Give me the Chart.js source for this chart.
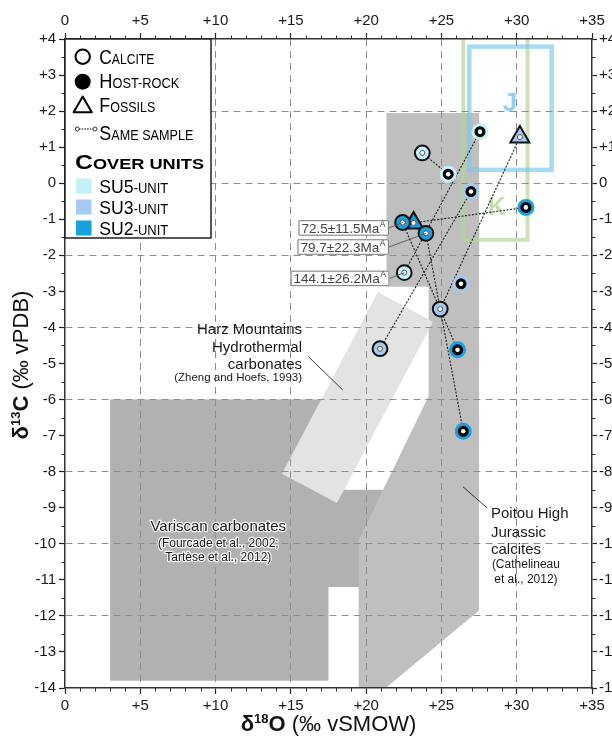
<!DOCTYPE html>
<html><head><meta charset="utf-8">
<script src="https://cdn.jsdelivr.net/npm/chart.js@4/dist/chart.umd.min.js"></script>
<style>html,body{margin:0;padding:0;background:#fff;}#wrap{width:612px;height:736px;}</style>
</head><body><div id="wrap"><canvas id="c" width="612" height="736"></canvas></div>
<script>
// ---------- data ----------
const xTickValues = [0, 5, 10, 15, 20, 25, 30, 35];
const yTickValues = [4, 3, 2, 1, 0, -1, -2, -3, -4, -5, -6, -7, -8, -9, -10, -11, -12, -13, -14];

const calciteD18O = [23.73, 22.53, 22.42, 23.97, 24.92, 20.92];
const calciteD13C = [0.84, -2.48, -1.09, -1.39, -3.49, -4.59];
const calciteUnit = ['SU5', 'SU5', 'SU2', 'SU2', 'SU3', 'SU3'];

const hostD18O = [27.56, 25.45, 26.96, 30.61, 26.30, 26.07, 26.45];
const hostD13C = [1.43, 0.25, -0.23, -0.67, -2.79, -4.62, -6.88];
const hostUnit = ['SU5', 'SU5', 'SU3', 'SU2', 'SU3', 'SU2', 'SU2'];

const fossilD18O = [30.21, 23.15];
const fossilD13C = [1.28, -1.10];
const fossilUnit = ['SU3', 'SU2'];

// same-sample links: [kind, index, kind, index]
const samePairs = [['C',0,'H',1],['C',1,'H',0],['C',5,'H',2],['F',0,'C',4],['H',3,'F',1],['C',2,'H',5],['C',3,'H',6]];

const ageLabels = ['72.5±11.5Ma', '79.7±22.3Ma', '144.1±26.2Ma'];
const ageTarget = [['C',2], ['C',3], ['C',1]];

const variscanX = [3, 3, 18.3, 18.3, 21.5, 21.5, 17.5, 17.5];
const variscanY = [-13.8, -6, -6, -8.5, -8.5, -11.2, -11.2, -13.8];
const poitouX = [21.35, 27.5, 27.5, 21.3, 19.5, 19.5, 24.15, 24.15, 21.35];
const poitouY = [1.95, 1.95, -11.85, -14, -14, -9.9, -5.9, -2.87, -2.87];
const harzX = [20.78, 24.44, 18.06, 14.41];
const harzY = [-3.02, -3.85, -8.87, -8.06];
const jBoxX = [26.85, 32.32];
const jBoxY = [3.79, 0.37];
const kBoxX = [26.45, 30.72];
const kBoxY = [4.3, -1.57];

const unitNames = ['SU5-unit', 'SU3-unit', 'SU2-unit'];
const unitColor = {SU5: '#c6f0f8', SU3: '#a5c9f0', SU2: '#18a1dc'};

// ---------- helpers ----------
const FAM = '"Liberation Sans", Arial, sans-serif';
const NARROW = '"Liberation Sans Narrow", "Liberation Sans", Arial, sans-serif';
const fmt = v => v > 0 ? '+' + v : String(v);
const pt = (k, i) => k === 'C' ? {x: calciteD18O[i], y: calciteD13C[i]}
                  : k === 'H' ? {x: hostD18O[i], y: hostD13C[i]}
                  : {x: fossilD18O[i], y: fossilD13C[i]};

function poly(ctx, xs, ys, X, Y, color) {
  ctx.beginPath();
  X.forEach((x, i) => { const a = xs.getPixelForValue(x), b = ys.getPixelForValue(Y[i]); i ? ctx.lineTo(a, b) : ctx.moveTo(a, b); });
  ctx.closePath(); ctx.fillStyle = color; ctx.fill();
}
function smallCaps(ctx, text, x, y, big, small, weight, family, targetW) {
  const segs = [];
  for (const ch of text) {
    const sm = (ch !== ch.toUpperCase()) || ch === '-' || ch === ' ';
    const t = ch.toUpperCase();
    if (segs.length && segs[segs.length - 1].sm === sm) segs[segs.length - 1].t += t; else segs.push({t, sm});
  }
  let total = 0;
  segs.forEach(s => { ctx.font = `${weight} ${s.sm ? small : big}px ${family}`; s.w = ctx.measureText(s.t).width; total += s.w; });
  const k = targetW ? targetW / total : 1;
  ctx.save(); ctx.translate(x, y); ctx.scale(k, 1); let cx = 0;
  ctx.textAlign = 'left'; ctx.textBaseline = 'alphabetic';
  segs.forEach(s => { ctx.font = `${weight} ${s.sm ? small : big}px ${family}`; ctx.fillText(s.t, cx, 0); cx += s.w; });
  ctx.restore();
}
function rich(ctx, parts, x, y) {
  let total = 0;
  parts.forEach(p => { ctx.font = p.f; p.w = ctx.measureText(p.t).width; total += p.w; });
  let cx = x - total / 2; ctx.textAlign = 'left'; ctx.textBaseline = 'alphabetic';
  parts.forEach(p => { ctx.font = p.f; ctx.fillText(p.t, cx, y + (p.dy || 0)); cx += p.w; });
}
function line(ctx, x1, y1, x2, y2) { ctx.beginPath(); ctx.moveTo(x1, y1); ctx.lineTo(x2, y2); ctx.stroke(); }

// ---------- plugins ----------
const backdrop = {
  id: 'backdrop',
  beforeDraw(chart) {
    const {ctx, chartArea: a} = chart; const xs = chart.scales.x, ys = chart.scales.y;
    const X = v => xs.getPixelForValue(v), Y = v => ys.getPixelForValue(v);
    ctx.save();
    ctx.fillStyle = '#fff'; ctx.fillRect(0, 0, chart.width, chart.height);
    ctx.beginPath(); ctx.rect(a.left, a.top, a.right - a.left, a.bottom - a.top); ctx.clip();
    poly(ctx, xs, ys, variscanX, variscanY, '#b1b1b1');
    poly(ctx, xs, ys, poitouX, poitouY, '#bfbfbf');
    poly(ctx, xs, ys, harzX, harzY, '#e3e3e3');
    ctx.lineWidth = 4; ctx.strokeStyle = 'rgba(180,212,152,0.68)';
    ctx.strokeRect(X(kBoxX[0]), Y(kBoxY[0]), X(kBoxX[1]) - X(kBoxX[0]), Y(kBoxY[1]) - Y(kBoxY[0]));
    ctx.lineWidth = 4.5; ctx.strokeStyle = 'rgba(120,200,235,0.66)';
    ctx.strokeRect(X(jBoxX[0]), Y(jBoxY[0]), X(jBoxX[1]) - X(jBoxX[0]), Y(jBoxY[1]) - Y(jBoxY[0]));
    ctx.textAlign = 'center'; ctx.textBaseline = 'alphabetic';
    ctx.font = 'bold 26px ' + FAM; ctx.fillStyle = '#8fd2ee';
    ctx.fillText('J', X(29.55), Y(2.26) + 9.3);
    ctx.font = 'bold 25px ' + FAM; ctx.fillStyle = '#c6dcb0';
    ctx.fillText('K', X(28.67), Y(-0.63) + 9);
    ctx.restore();
  }
};

const overlay = {
  id: 'overlay',
  afterDraw(chart) {
    const {ctx, chartArea: a} = chart; const xs = chart.scales.x, ys = chart.scales.y;
    const X = v => xs.getPixelForValue(v), Y = v => ys.getPixelForValue(v);
    ctx.save();
    // minor ticks
    ctx.strokeStyle = '#333'; ctx.lineWidth = 1;
    for (let v = 0; v <= 35; v += 1) { if (v % 5 === 0) continue; const p = Math.round(X(v)) + 0.5;
      line(ctx, p, a.bottom, p, a.bottom + 3.5); line(ctx, p, a.top, p, a.top - 3.5); }
    for (let v = -14; v <= 4; v += 0.5) { if (Number.isInteger(v)) continue; const p = Math.round(Y(v)) + 0.5;
      line(ctx, a.left, p, a.left - 3.5, p); line(ctx, a.right, p, a.right + 3.5, p); }

    // region annotations
    ctx.fillStyle = '#1a1a1a'; ctx.strokeStyle = '#222'; ctx.lineWidth = 0.9;
    ctx.textAlign = 'right'; ctx.textBaseline = 'alphabetic';
    ctx.font = '15px ' + FAM;
    ctx.fillText('Harz Mountains', X(15.74), Y(-4.18));
    ctx.fillText('Hydrothermal', X(15.74), Y(-4.67));
    ctx.fillText('carbonates', X(15.74), Y(-5.14));
    ctx.font = '11.5px ' + FAM;
    ctx.fillText('(Zheng and Hoefs, 1993)', X(15.74), Y(-5.48));
    line(ctx, X(16.16), Y(-4.81), X(18.44), Y(-5.73));

    ctx.textAlign = 'center'; ctx.lineJoin = 'round';
    const halo = (t, x, y, f) => { ctx.font = f; ctx.strokeStyle = 'rgba(255,255,255,0.9)'; ctx.lineWidth = 2.5; ctx.strokeText(t, x, y); ctx.fillStyle = '#1a1a1a'; ctx.fillText(t, x, y); };
    halo('Variscan carbonates', X(10.18), Y(-9.64), '15px ' + FAM);
    halo('(Fourcade et al., 2002;', X(10.18), Y(-10.08), '12px ' + FAM);
    halo('Tartèse et al., 2012)', X(10.18), Y(-10.48), '12px ' + FAM);

    ctx.fillStyle = '#1a1a1a'; ctx.strokeStyle = '#222'; ctx.lineWidth = 0.9;
    ctx.textAlign = 'left'; ctx.font = '15px ' + FAM;
    ctx.fillText('Poitou High', X(28.29), Y(-9.29));
    ctx.fillText('Jurassic', X(28.29), Y(-9.80));
    ctx.fillText('calcites', X(28.29), Y(-10.28));
    ctx.textAlign = 'center'; ctx.font = '12px ' + FAM;
    ctx.fillText('(Cathelineau', X(30.61), Y(-10.68));
    ctx.fillText('et al., 2012)', X(30.61), Y(-11.09));
    line(ctx, X(26.43), Y(-8.42), X(28.02), Y(-9.0));

    // age boxes
    const boxRight = [21.51, 21.51, 21.55], boxCY = [-1.24, -1.77, -2.64];
    ageLabels.forEach((t, i) => {
      ctx.font = '13.5px ' + FAM; const w1 = ctx.measureText(t).width;
      ctx.font = '8.5px ' + FAM; const w2 = ctx.measureText('A').width;
      const r = X(boxRight[i]), cy = Y(boxCY[i]), w = w1 + w2 + 7, h = 15.5;
      const p = pt(ageTarget[i][0], ageTarget[i][1]);
      ctx.strokeStyle = '#555'; ctx.lineWidth = 0.9;
      line(ctx, r, cy, X(p.x), Y(p.y));
      ctx.fillStyle = '#fff'; ctx.fillRect(r - w, cy - h / 2, w, h);
      ctx.strokeStyle = '#777'; ctx.lineWidth = 1; ctx.strokeRect(r - w + 0.5, cy - h / 2 + 0.5, w - 1, h - 1);
      ctx.fillStyle = '#444'; ctx.textAlign = 'left';
      ctx.font = '13.5px ' + FAM; ctx.fillText(t, r - w + 3, cy + 5);
      ctx.font = '8.5px ' + FAM; ctx.fillText('A', r - w + 3 + w1 + 0.5, cy - 1);
    });

    // legend
    const L = a.left, T = a.top;
    ctx.fillStyle = '#fff'; ctx.fillRect(L, T, 146, 199);
    ctx.strokeStyle = '#222'; ctx.lineWidth = 1.5; ctx.strokeRect(L, T, 146, 199);
    ctx.strokeStyle = '#000'; ctx.lineWidth = 2;
    ctx.beginPath(); ctx.arc(L + 17.7, T + 17.7, 7.2, 0, Math.PI * 2); ctx.stroke();
    ctx.fillStyle = '#000'; ctx.beginPath(); ctx.arc(L + 17.7, T + 42.7, 8, 0, Math.PI * 2); ctx.fill();
    ctx.beginPath(); const tr = 10.5, tcx = L + 17.7, tcy = T + 68;
    for (let k = 0; k < 3; k++) { const ang = k * 2 * Math.PI / 3; const px = tcx + Math.sin(ang) * tr, py = tcy - Math.cos(ang) * tr; k ? ctx.lineTo(px, py) : ctx.moveTo(px, py); }
    ctx.closePath(); ctx.stroke();
    ctx.lineWidth = 1; ctx.setLineDash([1.5, 1.2]); line(ctx, L + 14, T + 90, L + 28, T + 90); ctx.setLineDash([]);
    ctx.fillStyle = '#fff'; ctx.strokeStyle = '#333';
    [L + 12.3, L + 30].forEach(cx => { ctx.beginPath(); ctx.arc(cx, T + 90, 2, 0, Math.PI * 2); ctx.fill(); ctx.stroke(); });
    ctx.fillStyle = '#000';
    smallCaps(ctx, 'Calcite', L + 34.3, T + 25, 20, 14, 'normal', NARROW, 55);
    smallCaps(ctx, 'Host-rock', L + 34.3, T + 49.3, 20, 14, 'normal', NARROW, 80);
    smallCaps(ctx, 'Fossils', L + 34.3, T + 72.7, 20, 14, 'normal', NARROW, 56);
    smallCaps(ctx, 'Same sample', L + 34.3, T + 101, 20, 14, 'normal', NARROW, 94);
    smallCaps(ctx, 'Cover units', L + 10, T + 130.3, 20.5, 15, 'bold', FAM, 129);
    const uKeys = ['SU5', 'SU3', 'SU2'], sqTop = [139.5, 160.5, 181.5];
    uKeys.forEach((k, i) => {
      ctx.fillStyle = unitColor[k]; ctx.fillRect(L + 11, T + sqTop[i], 15.5, 15);
      ctx.fillStyle = '#000';
      smallCaps(ctx, unitNames[i], L + 34.3, T + sqTop[i] + 14.5, 19, 14, 'normal', NARROW, 69);
    });

    // axis titles
    ctx.fillStyle = '#111';
    rich(ctx, [
      {t: 'δ', f: 'bold 22px ' + FAM}, {t: '18', f: 'bold 13px ' + FAM, dy: -8},
      {t: 'O', f: 'bold 22px ' + FAM}, {t: ' (‰ vSMOW)', f: '22px ' + FAM}
    ], (a.left + a.right) / 2, 731);
    ctx.save(); ctx.translate(28, 365); ctx.rotate(-Math.PI / 2);
    rich(ctx, [
      {t: 'δ', f: 'bold 22px ' + FAM}, {t: '13', f: 'bold 13px ' + FAM, dy: -8},
      {t: 'C', f: 'bold 22px ' + FAM}, {t: ' (‰ vPDB)', f: '22px ' + FAM}
    ], 0, 0);
    ctx.restore();
    ctx.restore();
  }
};

// ---------- datasets ----------
const lineSets = samePairs.map(p => ({
  data: [pt(p[0], p[1]), pt(p[2], p[3])], showLine: true, borderColor: '#1a1a1a', borderWidth: 1.1,
  borderDash: [2, 1.5], pointRadius: 0, order: 10
}));
const hostPts = hostD18O.map((x, i) => ({x, y: hostD13C[i]}));
const calcPts = calciteD18O.map((x, i) => ({x, y: calciteD13C[i]}));
const fossPts = fossilD18O.map((x, i) => ({x, y: fossilD13C[i]}));

const datasets = [
  ...lineSets,
  {label: 'Fossils', data: fossPts, pointStyle: 'triangle', pointRadius: 11, pointBorderWidth: 2,
   pointBackgroundColor: fossilUnit.map(u => unitColor[u]), pointBorderColor: '#111', order: 4},
  {label: 'Host-rock', data: hostPts, pointStyle: 'circle', pointRadius: 7, pointBorderWidth: 3,
   pointBackgroundColor: '#000', pointBorderColor: hostUnit.map(u => unitColor[u]), order: 3},
  {label: 'Calcite', data: calcPts, pointStyle: 'circle', pointRadius: 7.4, pointBorderWidth: 2,
   pointBackgroundColor: calciteUnit.map(u => unitColor[u]), pointBorderColor: '#111', order: 3},
  {label: 'host centre', data: hostPts, pointRadius: 2.3, pointBorderWidth: 0, pointBackgroundColor: '#fff', order: 1},
  {label: 'sample centre', data: [...calcPts, ...fossPts], pointRadius: 2.5, pointBorderWidth: 1,
   pointBackgroundColor: '#fff', pointBorderColor: '#555', order: 1}
];

const tickFont = {family: FAM, size: 15};
const gx = c => (c.tick && c.tick.value > 0 && c.tick.value < 35) ? '#8e8e8e' : 'rgba(0,0,0,0)';
const gy = c => (c.tick && c.tick.value % 2 === 0 && c.tick.value > -14 && c.tick.value < 4) ? '#8e8e8e' : 'rgba(0,0,0,0)';
const setX = s => { s.ticks = xTickValues.map(v => ({value: v})); };
const setY = s => { s.ticks = yTickValues.map(v => ({value: v})); };

new Chart(document.getElementById('c'), {
  type: 'scatter',
  data: {datasets},
  options: {
    responsive: false, animation: false, devicePixelRatio: 1,
    layout: {padding: 0},
    plugins: {legend: {display: false}, tooltip: {enabled: false}},
    scales: {
      x: {type: 'linear', position: 'bottom', min: 0, max: 35, afterBuildTicks: setX, afterFit: s => { s.height = 48; },
          ticks: {callback: fmt, font: tickFont, color: '#1a1a1a', padding: 3, maxRotation: 0, autoSkip: false},
          grid: {color: gx, lineWidth: 1, tickColor: '#222', tickLength: 6, tickWidth: 1.2},
          border: {display: true, color: '#333', width: 1.5, dash: [7, 5]}},
      x2: {type: 'linear', position: 'top', min: 0, max: 35, afterBuildTicks: setX, afterFit: s => { s.height = 39; },
          ticks: {callback: fmt, font: tickFont, color: '#1a1a1a', padding: 3, maxRotation: 0, autoSkip: false},
          grid: {drawOnChartArea: false, tickColor: '#222', tickLength: 6, tickWidth: 1.2},
          border: {display: true, color: '#333', width: 1.5}},
      y: {type: 'linear', position: 'left', min: -14, max: 4, afterBuildTicks: setY, afterFit: s => { s.width = 65; },
          ticks: {callback: fmt, font: tickFont, color: '#1a1a1a', padding: 3, autoSkip: false},
          grid: {color: gy, lineWidth: 1, tickColor: '#222', tickLength: 6, tickWidth: 1.2},
          border: {display: true, color: '#333', width: 1.5, dash: [7, 5]}},
      y2: {type: 'linear', position: 'right', min: -14, max: 4, afterBuildTicks: setY, afterFit: s => { s.width = 20; },
          ticks: {callback: fmt, font: tickFont, color: '#1a1a1a', padding: 2, autoSkip: false},
          grid: {drawOnChartArea: false, tickColor: '#222', tickLength: 5, tickWidth: 1.2},
          border: {display: true, color: '#333', width: 1.5}}
    }
  },
  plugins: [backdrop, overlay]
});
</script></body></html>
